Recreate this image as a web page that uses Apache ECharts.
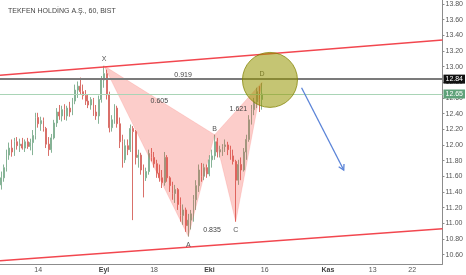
<!DOCTYPE html>
<html><head><meta charset="utf-8">
<script src="https://cdn.jsdelivr.net/npm/echarts@6/dist/echarts.min.js"></script>
<style>html,body{margin:0;padding:0;background:#fff}#c{width:466px;height:275px}</style>
</head><body><div id="c"></div>
<script>
// ---- data ----
const tickLabels = ['14','Eyl','18','Eki','16','Kas','13','22'];
const tickSlots  = [14, 39, 58, 79, 100, 124, 141, 156];
const monthLabels = ['Eyl','Eki','Kas'];
const slotCount = 168;

const opens  = [11.49,11.58,11.71,11.87,11.96,11.91,12.04,11.99,12.01,11.96,12.04,11.98,12.03,12.12,12.35,12.27,12.31,12.21,12.01,11.94,
                12.09,12.28,12.42,12.37,12.45,12.37,12.47,12.42,12.56,12.70,12.75,12.68,12.63,12.56,12.51,12.58,12.42,12.37,12.58,12.83,
                12.91,12.64,12.22,12.32,12.47,12.27,12.04,11.81,11.99,11.94,12.21,12.17,11.84,11.87,11.68,11.58,11.66,11.89,11.84,11.76,
                11.64,11.58,11.52,11.84,11.58,11.48,11.38,11.43,11.24,11.10,11.17,10.97,11.04,11.12,11.30,11.48,11.68,11.60,11.71,11.63,
                11.81,11.86,12.04,11.91,11.94,11.98,12.00,11.94,11.86,11.79,11.55,11.75,11.68,11.91,12.07,12.32,12.45,12.55,12.68,12.58];
const highs  = [11.66,11.75,11.94,12.03,12.07,12.09,12.10,12.08,12.09,12.07,12.09,12.08,12.19,12.41,12.41,12.36,12.35,12.23,12.10,12.14,
                12.32,12.47,12.51,12.50,12.52,12.50,12.55,12.60,12.77,12.81,12.86,12.77,12.70,12.65,12.61,12.60,12.51,12.63,12.88,13.01,
                12.96,12.68,12.38,12.52,12.50,12.35,12.13,12.07,12.07,12.26,12.24,12.19,11.94,11.90,11.75,11.71,11.94,11.96,11.91,11.81,
                11.75,11.68,11.91,11.87,11.60,11.53,11.49,11.45,11.33,11.24,11.20,11.12,11.17,11.36,11.55,11.75,11.77,11.76,11.75,11.87,
                11.94,12.13,12.09,11.99,12.01,12.07,12.04,11.99,11.94,11.81,11.81,11.84,11.96,12.13,12.38,12.51,12.60,12.73,12.75,12.79];
const lows   = [11.43,11.53,11.66,11.81,11.85,11.86,11.94,11.91,11.94,11.91,11.95,11.93,11.87,12.07,12.22,12.18,12.17,11.96,11.86,11.90,
                12.07,12.23,12.32,12.30,12.32,12.31,12.36,12.38,12.52,12.60,12.64,12.58,12.51,12.47,12.45,12.37,12.32,12.27,12.54,12.73,
                12.58,12.16,12.17,12.27,12.22,11.96,11.71,11.77,11.87,11.91,11.04,11.75,11.71,11.62,11.33,11.54,11.62,11.79,11.71,11.58,
                11.53,11.45,11.48,11.53,11.40,11.30,11.26,11.17,11.02,10.98,10.89,10.83,10.92,11.02,11.17,11.40,11.53,11.55,11.58,11.60,
                11.71,11.81,11.84,11.84,11.86,11.91,11.87,11.81,11.75,11.02,11.49,11.55,11.66,11.81,12.04,12.26,12.38,12.47,12.42,12.45];
const closes = [11.58,11.71,11.87,11.96,11.91,12.04,11.99,12.01,11.96,12.04,11.98,12.03,12.12,12.35,12.27,12.31,12.21,12.01,11.94,12.09,
                12.28,12.42,12.37,12.45,12.37,12.47,12.42,12.56,12.70,12.75,12.68,12.63,12.56,12.51,12.58,12.42,12.37,12.58,12.83,12.91,
                12.64,12.22,12.32,12.47,12.27,12.04,11.81,11.99,11.94,12.21,12.17,11.84,11.87,11.68,11.58,11.66,11.89,11.84,11.76,11.64,
                11.58,11.52,11.84,11.58,11.48,11.38,11.43,11.24,11.10,11.17,10.97,11.04,11.12,11.30,11.48,11.68,11.60,11.71,11.63,11.81,
                11.86,12.04,11.91,11.94,11.98,12.00,11.94,11.86,11.79,11.55,11.75,11.68,11.91,12.07,12.32,12.45,12.55,12.68,12.58,12.65];

const patternNames = ['X','A','B','C','D'];
const patternSlots = [39, 71, 81, 89, 99];
const patternPrice = [13.01, 10.83, 12.13, 11.02, 12.80];
const ratioLabels  = ['0.605','0.835','1.621','0.919'];   // XB, AC, BD, XD
const ratioPairs   = [[0,2],[1,3],[2,4],[0,4]];

const channelUpper = [12.89, 13.34];   // left edge, right edge
const channelLower = [10.52, 10.93];
const levelPrice = 12.84;
const lastPrice  = 12.65;
const zoneCenter = [102, 12.83];
const arrowFrom  = [114, 12.73];
const arrowTo    = [130, 11.68];

const titleText = 'TEKFEN HOLDİNG A.Ş., 60, BIST';

// ---- build ----
const categories = new Array(slotCount).fill('');
tickSlots.forEach((s, k) => { categories[s] = tickLabels[k]; });
const candles = opens.map((o, i) => [o, closes[i], lows[i], highs[i]]);

const FONT = 'Liberation Sans, Arial, sans-serif';
const chart = echarts.init(document.getElementById('c'), null, {renderer: 'canvas'});

function channelItem(vals) {
  return function (params, api) {
    const cs = params.coordSys;
    const y0 = api.coord([0, vals[0]])[1];
    const y1 = api.coord([0, vals[1]])[1];
    return {type: 'line', shape: {x1: cs.x, y1: y0, x2: cs.x + cs.width, y2: y1},
            style: {stroke: '#f2474f', lineWidth: 1.5}};
  };
}

chart.setOption({
  animation: false,
  backgroundColor: '#fff',
  title: {text: titleText, left: 3, top: 3,
    textStyle: {fontSize: 7, fontWeight: 'normal', color: '#444', fontFamily: FONT}},
  grid: {left: 0, right: 19, top: 0, bottom: 11, containLabel: false},
  xAxis: {
    type: 'category', data: categories, boundaryGap: true,
    axisLine: {lineStyle: {color: '#8c8c8c', width: 1}},
    axisTick: {show: false},
    splitLine: {show: false},
    axisLabel: {
      interval: (i, v) => v !== '', fontSize: 7, color: '#555', margin: 3, fontFamily: FONT,
      formatter: v => monthLabels.includes(v) ? '{b|' + v + '}' : v,
      rich: {b: {fontSize: 7, fontWeight: 'bold', color: '#444', fontFamily: FONT}}
    }
  },
  yAxis: {
    type: 'value', position: 'right', min: 10.48, max: 13.85, splitNumber: 17, scale: true,
    axisLine: {show: true, lineStyle: {color: '#8c8c8c', width: 1}},
    axisTick: {show: true, length: 2, lineStyle: {color: '#8c8c8c'}},
    splitLine: {show: false},
    axisLabel: {fontSize: 7, color: '#555', margin: 3, fontFamily: FONT,
      showMinLabel: false, showMaxLabel: false, formatter: v => v.toFixed(2)}
  },
  series: [
    {
      type: 'candlestick', data: candles, barMaxWidth: 2, z: 2,
      itemStyle: {color: '#86b396', color0: '#d9706a', borderColor: '#86b396', borderColor0: '#d9706a', borderWidth: 1},
      markLine: {
        symbol: 'none', silent: true, animation: false,
        data: [
          {yAxis: levelPrice, lineStyle: {color: '#7b7b7b', width: 2, type: 'solid'},
           label: {show: true, position: 'end', distance: 1, formatter: p => p.value.toFixed(2),
                   backgroundColor: '#111', color: '#fff', fontSize: 7, padding: [1, 2, 1, 2], fontFamily: FONT}},
          {yAxis: lastPrice, lineStyle: {color: '#a9d4b6', width: 1, type: 'solid'},
           label: {show: true, position: 'end', distance: 1, formatter: p => p.value.toFixed(2),
                   backgroundColor: '#5fa27a', color: '#fff', fontSize: 7, padding: [1, 2, 1, 2], fontFamily: FONT}}
        ]
      }
    },
    {type: 'custom', data: [[0, channelUpper[0]]], renderItem: channelItem(channelUpper), z: 3, silent: true},
    {type: 'custom', data: [[0, channelLower[0]]], renderItem: channelItem(channelLower), z: 3, silent: true},
    {
      type: 'custom', data: [[patternSlots[0], patternPrice[0]]], z: 4, silent: true, clip: false,
      renderItem: function (params, api) {
        const p = patternSlots.map((s, k) => api.coord([s, patternPrice[k]]));
        const fill = 'rgba(245,70,60,0.27)';
        const children = [
          {type: 'polygon', shape: {points: [p[0], p[1], p[2]]}, style: {fill: fill, stroke: 'rgba(245,70,60,0.15)', lineWidth: 1}},
          {type: 'polygon', shape: {points: [p[2], p[3], p[4]]}, style: {fill: fill, stroke: 'rgba(245,70,60,0.15)', lineWidth: 1}}
        ];
        const offs = [-7, 8, -6, 8, -8];
        p.forEach((pt, k) => children.push({type: 'text', x: pt[0], y: pt[1] + offs[k],
          style: {text: patternNames[k], fontSize: 7, fill: '#555', align: 'center', verticalAlign: 'middle', fontFamily: FONT}}));
        ratioPairs.forEach((pr, k) => {
          const a = p[pr[0]], b = p[pr[1]];
          children.push({type: 'text', x: (a[0] + b[0]) / 2, y: (a[1] + b[1]) / 2 + 1,
            style: {text: ratioLabels[k], fontSize: 7, fill: '#444', align: 'center', verticalAlign: 'middle', fontFamily: FONT}});
        });
        return {type: 'group', children: children};
      }
    },
    {
      type: 'custom', data: [zoneCenter], z: 5, silent: true, clip: false,
      renderItem: function (params, api) {
        const c = api.coord(zoneCenter);
        return {type: 'circle', shape: {cx: c[0], cy: c[1], r: 27.5},
                style: {fill: 'rgba(150,150,0,0.55)', stroke: 'rgba(130,130,0,0.75)', lineWidth: 1}};
      }
    },
    {
      type: 'custom', data: [arrowFrom], z: 5, silent: true, clip: false,
      renderItem: function (params, api) {
        const a = api.coord(arrowFrom), b = api.coord(arrowTo);
        const ang = Math.atan2(b[1] - a[1], b[0] - a[0]);
        const L = 6, w = Math.PI / 6;
        const h1 = [b[0] - L * Math.cos(ang - w), b[1] - L * Math.sin(ang - w)];
        const h2 = [b[0] - L * Math.cos(ang + w), b[1] - L * Math.sin(ang + w)];
        const st = {stroke: '#5b84d8', lineWidth: 1.3, fill: null};
        return {type: 'group', children: [
          {type: 'line', shape: {x1: a[0], y1: a[1], x2: b[0], y2: b[1]}, style: st},
          {type: 'polyline', shape: {points: [h1, b, h2]}, style: {stroke: '#5b84d8', lineWidth: 1.3, fill: 'none'}}
        ]};
      }
    }
  ]
});
</script></body></html>
